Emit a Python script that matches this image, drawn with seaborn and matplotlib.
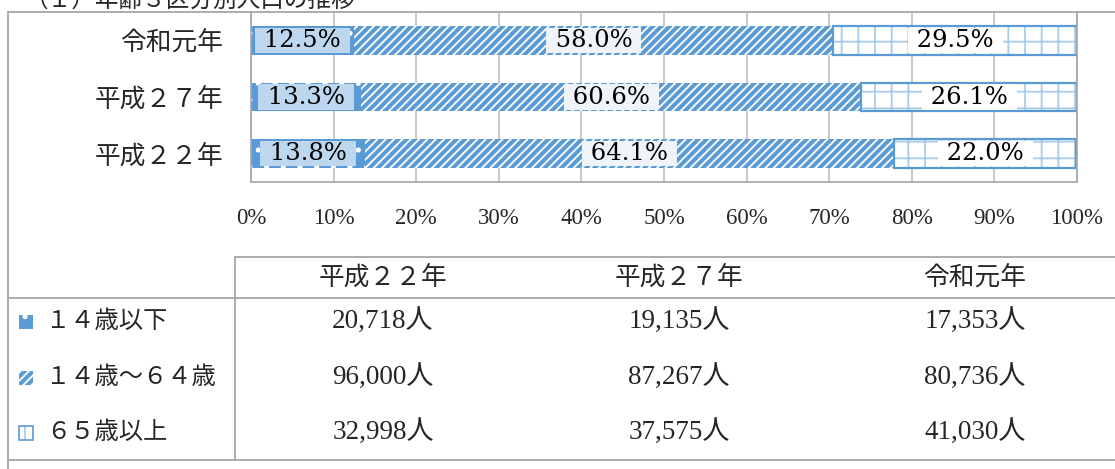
import matplotlib
matplotlib.use("Agg")
import matplotlib.pyplot as plt
from matplotlib.patches import Rectangle
import numpy as np
import pandas as pd
import seaborn as sns

# ---------- data ----------
YEARS = ["平成２２年", "平成２７年", "令和元年"]
BAR_ORDER = ["令和元年", "平成２７年", "平成２２年"]  # top -> bottom
GROUPS = ["１４歳以下", "１４歳～６４歳", "６５歳以上"]

PCT_YOUNG = [13.8, 13.3, 12.5]
PCT_WORK = [64.1, 60.6, 58.0]
PCT_OLD = [22.0, 26.1, 29.5]

POP_YOUNG = [20718, 19135, 17353]
POP_WORK = [96000, 87267, 80736]
POP_OLD = [32998, 37575, 41030]

TITLE = "（１）年齢３区分別人口の推移"
XTICKS = list(range(0, 101, 10))

BLUE = "#5B9BD5"
LIGHT = "#BDD7EE"
HATCH3 = "#A9CBEA"
GRID = "#BFBFBF"
FRAME = "#A6A6A6"

sns.set_theme(style="white")
plt.rcParams["font.family"] = ["Liberation Serif", "Noto Sans CJK JP"]
plt.rcParams["hatch.linewidth"] = 1.3

W, H = 1115, 469
fig = plt.figure(figsize=(W / 100, H / 100), dpi=100)
ax = fig.add_axes([251 / W, 1 - 182 / H, 826 / W, 170 / H])

df = pd.DataFrame({"year": YEARS, "young": PCT_YOUNG, "work": PCT_WORK, "old": PCT_OLD})
d = df.set_index("year").loc[BAR_ORDER]
left_work = d["young"].values
left_old = (d["young"] + d["work"]).values

common = dict(data=df, y="year", order=BAR_ORDER, orient="h", width=0.51,
              errorbar=None, saturation=1, ax=ax, zorder=2)
sns.barplot(x="young", color=BLUE, **common)
sns.barplot(x="work", color=BLUE, left=left_work, **common)
sns.barplot(x="old", color="white", left=left_old, **common)
sns.barplot(x="old", color=BLUE, left=left_old, fill=False, linewidth=1.6, **common)

c_young, c_work, c_old, c_old_edge = ax.containers
for p in c_young:
    p.set_edgecolor("white"); p.set_linewidth(0); p.set_hatch(".")
for p in c_work:
    p.set_edgecolor("white"); p.set_linewidth(0); p.set_hatch("////")
for p in c_old:
    p.set_edgecolor(HATCH3); p.set_linewidth(0); p.set_hatch("+")

# data labels, centred in each segment
box_colors = [LIGHT, "#EEF4FA", "white"]
for cont, bc in zip([c_young, c_work, c_old], box_colors):
    for p in cont:
        cx = p.get_x() + p.get_width() / 2
        cy = p.get_y() + p.get_height() / 2
        ax.text(cx, cy, f" {p.get_width():.1f}% ", ha="center", va="center",
                fontsize=17.5, family="DejaVu Serif", color="black", zorder=5,
                bbox=dict(boxstyle="square,pad=0.05", fc=bc, ec="none"))

ax.set_xlim(0, 100)
ax.set_xticks(XTICKS)
ax.set_xticklabels([f"{t}%" for t in XTICKS])
ax.set_xlabel("")
ax.set_ylabel("")
ax.xaxis.grid(True, color=GRID, linewidth=1.2)
ax.set_axisbelow(True)
ax.tick_params(axis="x", length=0, pad=19, labelsize=16.5)
ax.tick_params(axis="y", length=0, pad=20, labelsize=18.5)
for s in ["left", "bottom", "right"]:
    ax.spines[s].set_color(FRAME)
    ax.spines[s].set_linewidth(1.2)
ax.spines["top"].set_visible(False)

# ---------- frame + data table (pixel coordinates) ----------
ov = fig.add_axes([0, 0, 1, 1])
ov.set_xlim(0, W)
ov.set_ylim(H, 0)
ov.axis("off")

ov.text(25, 7, TITLE, fontsize=17, va="baseline", ha="left")
ov.plot([8, W], [12, 12], color=FRAME, lw=1.3)
ov.plot([8, 8], [12, H], color=FRAME, lw=1.3)

ov.plot([235, W], [257, 257], color=FRAME, lw=1.3)
ov.plot([8, W], [298, 298], color=FRAME, lw=1.3)
ov.plot([8, W], [460, 460], color=FRAME, lw=1.3)
ov.plot([235, 235], [257, 460], color=FRAME, lw=1.3)

col_w = 296
col_cx = [235 + col_w * (i + 0.5) for i in range(len(YEARS))]
row_cy = [322, 378, 433]

for cx, yr in zip(col_cx, YEARS):
    ov.text(cx, 277, yr, ha="center", va="center", fontsize=18.5)

icon_styles = [
    dict(fc=BLUE, ec="white", hatch=".", lw=0),
    dict(fc=BLUE, ec="white", hatch="////", lw=0),
    dict(fc="white", ec=HATCH3, hatch="+", lw=0),
]
for cy, name, vals, st in zip(row_cy, GROUPS, [POP_YOUNG, POP_WORK, POP_OLD], icon_styles):
    ov.add_patch(Rectangle((19, cy - 7), 14, 14, **st))
    if st["fc"] == "white":
        ov.add_patch(Rectangle((19, cy - 7), 14, 14, fill=False, ec=BLUE, lw=1.2))
    ov.text(46, cy, name, ha="left", va="center", fontsize=17.5)
    for cx, v in zip(col_cx, vals):
        ov.text(cx, cy, f"{v:,}人", ha="center", va="center", fontsize=19.5)

fig.savefig("out.png", dpi=100)
